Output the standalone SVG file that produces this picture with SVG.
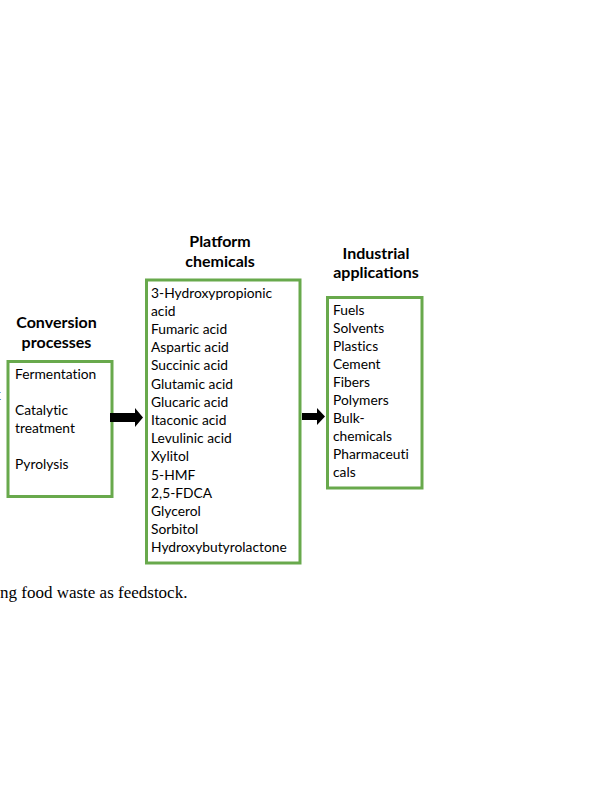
<svg xmlns="http://www.w3.org/2000/svg" width="599" height="800" viewBox="0 0 599 800">
<style>
.box{fill:#ffffff;stroke:#68a94c;stroke-width:3}
.t{font-family:Lato,"Open Sans","Liberation Sans",sans-serif;font-size:13.8px;fill:#000000;font-variant-ligatures:none}
.h{font-family:Lato,"Open Sans","Liberation Sans",sans-serif;font-size:16px;font-weight:bold;fill:#000000;text-anchor:middle}
.cap{font-family:"Liberation Serif","Times New Roman",serif;font-size:17px;fill:#000000}
.arr{fill:#000000}
</style>
<rect width="599" height="800" fill="#ffffff"/>
<text class="cap" x="-4" y="400">t</text>
<g id="conversion">
<text class="h" x="56.5" y="328">Conversion</text>
<text class="h" x="56.5" y="348">processes</text>
<rect class="box" x="8" y="361.5" width="104" height="135"/>
<text class="t" x="15" y="379">Fermentation</text>
<text class="t" x="15" y="415">Catalytic</text>
<text class="t" x="15" y="433">treatment</text>
<text class="t" x="15" y="469">Pyrolysis</text>
</g>
<g id="platform">
<text class="h" x="220" y="247">Platform</text>
<text class="h" x="220" y="267">chemicals</text>
<rect class="box" x="146.5" y="280" width="153.5" height="283"/>
<text class="t" x="151">
<tspan x="151" y="297.5">3-Hydroxypropionic</tspan>
<tspan x="151" y="315.7">acid</tspan>
<tspan x="151" y="333.9">Fumaric acid</tspan>
<tspan x="151" y="352.1">Aspartic acid</tspan>
<tspan x="151" y="370.3">Succinic acid</tspan>
<tspan x="151" y="388.5">Glutamic acid</tspan>
<tspan x="151" y="406.7">Glucaric acid</tspan>
<tspan x="151" y="424.9">Itaconic acid</tspan>
<tspan x="151" y="443.1">Levulinic acid</tspan>
<tspan x="151" y="461.3">Xylitol</tspan>
<tspan x="151" y="479.5">5-HMF</tspan>
<tspan x="151" y="497.7">2,5-FDCA</tspan>
<tspan x="151" y="515.9">Glycerol</tspan>
<tspan x="151" y="534.1">Sorbitol</tspan>
<tspan x="151" y="552.3">Hydroxybutyrolactone</tspan>
</text>
</g>
<g id="industrial">
<text class="h" x="376" y="259">Industrial</text>
<text class="h" x="376" y="278">applications</text>
<rect class="box" x="327.5" y="297.5" width="94.5" height="190.5"/>
<text class="t" x="333">
<tspan x="333" y="314.5">Fuels</tspan>
<tspan x="333" y="332.5">Solvents</tspan>
<tspan x="333" y="350.5">Plastics</tspan>
<tspan x="333" y="368.5">Cement</tspan>
<tspan x="333" y="386.5">Fibers</tspan>
<tspan x="333" y="404.5">Polymers</tspan>
<tspan x="333" y="422.5">Bulk-</tspan>
<tspan x="333" y="440.5">chemicals</tspan>
<tspan x="333" y="458.5">Pharmaceuti</tspan>
<tspan x="333" y="476.5">cals</tspan>
</text>
</g>
<g id="connectors">
<polygon class="arr" points="110,413 135,413 135,408 143,417.5 135,427 135,422 110,422"/>
<polygon class="arr" points="302,413 317,413 317,408 325,416.5 317,425 317,420 302,420"/>
</g>
<text class="cap" x="0" y="598">ng food waste as feedstock.</text>
</svg>
